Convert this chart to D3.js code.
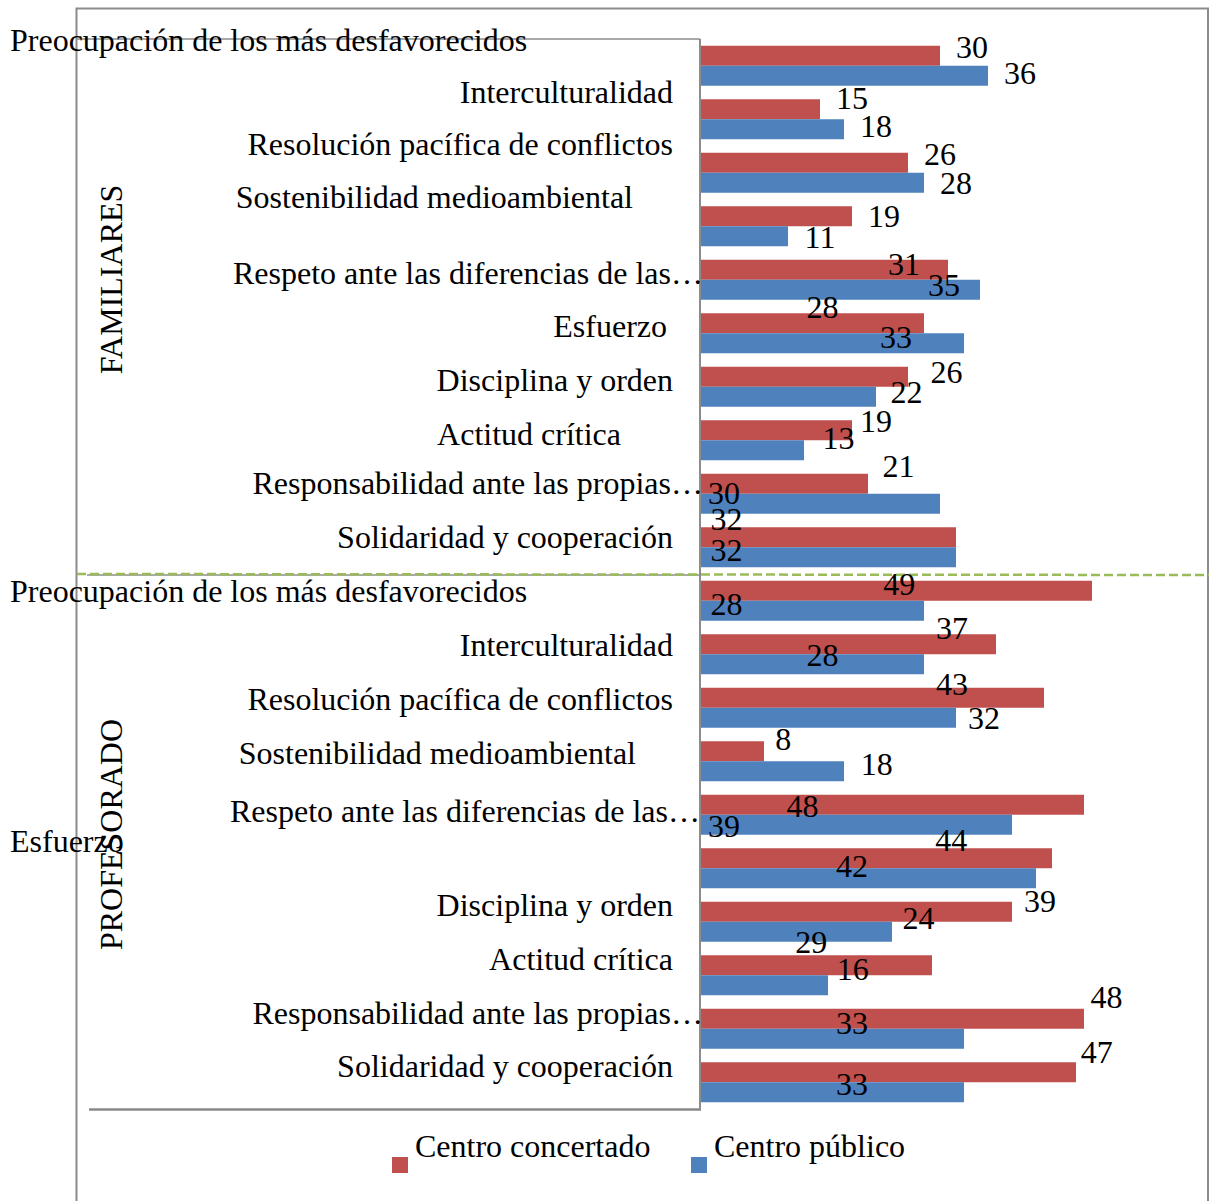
<!DOCTYPE html>
<html>
<head>
<meta charset="utf-8">
<script src="https://cdn.jsdelivr.net/npm/d3@7"></script>
<style>
  body { margin: 0; background: #fff; }
  text { font-family: "Liberation Serif", "Times New Roman", serif; fill: #000; }
</style>
</head>
<body>
<div class="diagram"></div>
<script>
// data
const categories = ["Preocupación de los más desfavorecidos", "Interculturalidad",
  "Resolución pacífica de conflictos", "Sostenibilidad medioambiental",
  "Respeto ante las diferencias de las…", "Esfuerzo", "Disciplina y orden",
  "Actitud crítica", "Responsabilidad ante las propias…", "Solidaridad y cooperación"];
const groups = ["FAMILIARES", "PROFESORADO"];
const seriesNames = ["Centro concertado", "Centro público"];
const famConcertado = [30, 15, 26, 19, 31, 28, 26, 19, 21, 32];
const famPublico = [36, 18, 28, 11, 35, 33, 22, 13, 30, 32];
const profConcertado = [49, 37, 43, 8, 48, 44, 39, 29, 48, 47];
const profPublico = [28, 28, 32, 18, 39, 42, 24, 16, 33, 33];

// where the value labels sit in the original (in value units along x, px shift in y)
const famConcertadoLabelAt = [34, 19, 30, 23, 25.5, 15.3, 30.8, 22, 24.8, 3.3];
const famPublicoLabelAt = [40, 22, 32, 15, 30.5, 24.5, 25.8, 17.3, 3, 3.3];
const profConcertadoLabelAt = [24.9, 31.5, 31.5, 10.4, 12.8, 31.4, 42.5, 13.9, 50.8, 49.6];
const profPublicoLabelAt = [3.3, 15.3, 35.5, 22.1, 3, 19, 27.3, 19.1, 19, 19];
const famConcertadoLabelDy = [-9, -11, -9, 0, -6, -16, -5, -9, -18, -18];
const famPublicoLabelDy = [-3, -3, 0, 1, -5, -6, -5, -12, -11, -7];
const profConcertadoLabelDy = [-7, -16, -14, -12, 1, -18, -11, -23, -22, -20];
const profPublicoLabelDy = [-7, -9, 0, -7, 1, -12, -14, -16, -16, -8];

// category label nudges [anchor, dx from axis, dy from band centre]
const famCatNudge = [["start", -690, -26], ["end", -27, -27], ["end", -27, -29], ["end", -67, -29],
  ["end", 3, -7], ["end", -33, -7], ["end", -27, -7], ["end", -79, -6], ["end", 3, -11], ["end", -27, -10]];
const profCatNudge = [["start", -690, -10], ["end", -27, -9], ["end", -27, -9], ["end", -64, -8],
  ["end", 0, -4], ["start", -690, -27], ["end", -27, -17], ["end", -27, -16], ["end", 3, -16], ["end", -27, -16]];
const groupLabelDy = [-27, -7];

const colors = {c: "#c0504d", p: "#4f81bd"};

const W = 1209, H = 1201;
const svg = d3.select(".diagram").append("svg")
  .attr("width", W).attr("height", H);

// rows: familiares then profesorado
const rows = [];
categories.forEach((c, i) => rows.push({g: 0, i: i, cat: c,
  c: famConcertado[i], p: famPublico[i],
  cl: famConcertadoLabelAt[i], pl: famPublicoLabelAt[i],
  cdy: famConcertadoLabelDy[i], pdy: famPublicoLabelDy[i], nudge: famCatNudge[i]}));
categories.forEach((c, i) => rows.push({g: 1, i: i, cat: c,
  c: profConcertado[i], p: profPublico[i],
  cl: profConcertadoLabelAt[i], pl: profPublicoLabelAt[i],
  cdy: profConcertadoLabelDy[i], pdy: profPublicoLabelDy[i], nudge: profCatNudge[i]}));

const axisX = 700, plotTop = 39, plotBottom = 1109;
const x = d3.scaleLinear().domain([0, 50]).range([axisX, axisX + 400]);
const y = d3.scaleBand().domain(d3.range(rows.length)).range([plotTop, plotBottom]);
const sub = d3.scaleBand().domain(["c", "p"]).range([0, y.bandwidth()]).paddingOuter(0.3375);

// outer frame
svg.append("rect")
  .attr("x", 76.5).attr("y", 8.5).attr("width", 1131.5).attr("height", 1220)
  .attr("fill", "none").attr("stroke", "#8c8c8c").attr("stroke-width", 2);

// plot area lines
svg.append("line").attr("x1", 77).attr("x2", axisX).attr("y1", plotTop).attr("y2", plotTop)
  .attr("stroke", "#8c8c8c").attr("stroke-width", 1.5);
svg.append("line").attr("x1", 89).attr("x2", axisX + 1).attr("y1", plotBottom + 0.5).attr("y2", plotBottom + 0.5)
  .attr("stroke", "#888").attr("stroke-width", 2.5);
svg.append("line").attr("x1", 87).attr("x2", axisX).attr("y1", y(10) + 1).attr("y2", y(10) + 1)
  .attr("stroke", "#8c8c8c").attr("stroke-width", 1.5);

// bars
const g = svg.append("g");
rows.forEach((r, k) => {
  ["c", "p"].forEach(s => {
    g.append("rect")
      .attr("x", x(0))
      .attr("y", y(k) + sub(s))
      .attr("width", x(r[s]) - x(0))
      .attr("height", sub.bandwidth())
      .attr("fill", colors[s]);
  });
});

// axis line
svg.append("line").attr("x1", axisX).attr("x2", axisX).attr("y1", plotTop).attr("y2", plotBottom)
  .attr("stroke", "#8c8c8c").attr("stroke-width", 2);

// divider
svg.append("line").attr("x1", 77).attr("x2", W).attr("y1", y(10)).attr("y2", y(10) + 1)
  .attr("stroke", "#9bbb59").attr("stroke-width", 2.5).attr("stroke-dasharray", "9,4");

// value labels
rows.forEach((r, k) => {
  [["c", r.cl, r.cdy], ["p", r.pl, r.pdy]].forEach(([s, at, dy]) => {
    svg.append("text")
      .attr("x", x(at))
      .attr("y", y(k) + sub(s) + sub.bandwidth() / 2 + dy)
      .attr("dy", "0.35em")
      .attr("text-anchor", "middle")
      .style("font-size", "32px")
      .text(r[s]);
  });
});

// category labels
rows.forEach((r, k) => {
  svg.append("text")
    .attr("x", axisX + r.nudge[1])
    .attr("y", y(k) + y.bandwidth() / 2 + r.nudge[2])
    .attr("dy", "0.35em")
    .attr("text-anchor", r.nudge[0])
    .style("font-size", "32px")
    .text(r.cat);
});

// group labels
groups.forEach((name, gi) => {
  const mid = (y(gi * 10) + y(gi * 10 + 9) + y.bandwidth()) / 2;
  svg.append("text")
    .attr("transform", `translate(122, ${mid + groupLabelDy[gi]}) rotate(-90)`)
    .attr("text-anchor", "middle")
    .style("font-size", "32px")
    .text(name);
});

// legend
const legend = svg.append("g");
[[392, "c"], [691, "p"]].forEach(([lx, s], i) => {
  legend.append("rect").attr("x", lx).attr("y", 1157).attr("width", 16).attr("height", 16)
    .attr("fill", colors[s]);
  legend.append("text").attr("x", lx + 23).attr("y", 1157)
    .style("font-size", "32px")
    .text(seriesNames[i]);
});
</script>
</body>
</html>
